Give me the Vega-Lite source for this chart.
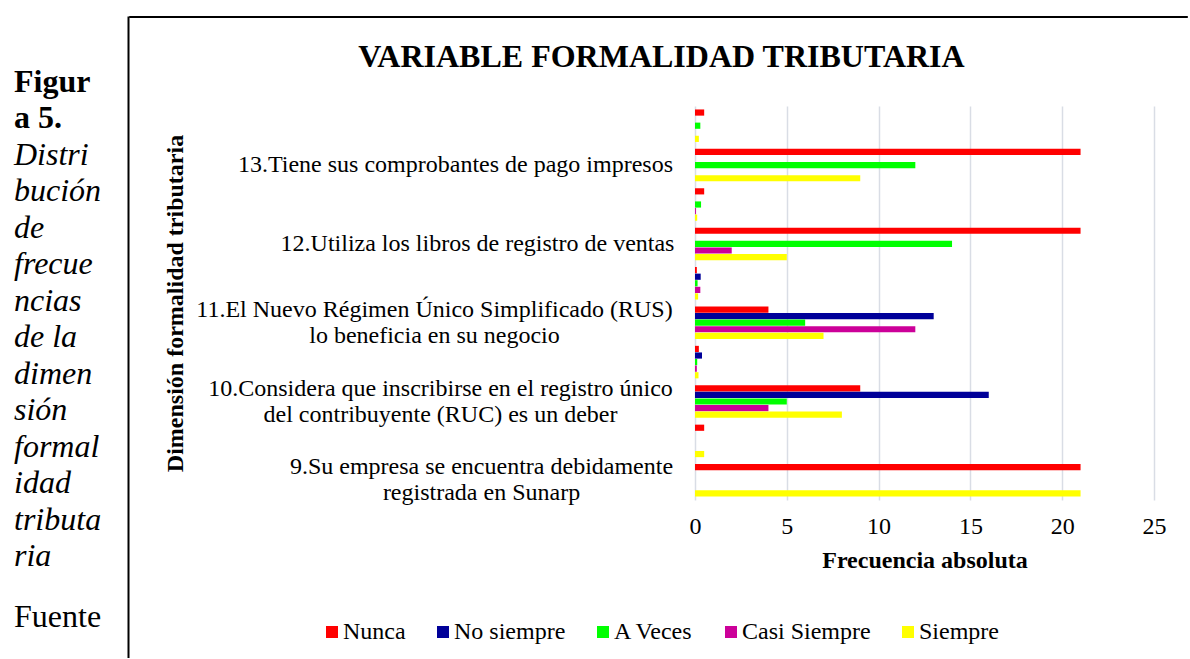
{
  "$schema": "https://vega.github.io/schema/vega-lite/v6.json",
  "background": "white",
  "padding": {"left": 0, "top": 15, "right": 0, "bottom": 0},
  "config": {
    "font": "Liberation Serif",
    "view": {"stroke": null},
    "concat": {"spacing": 0}
  },
  "hconcat": [
    {
      "width": 128,
      "height": 642,
      "view": {"stroke": null},
      "data": {"values": [
        {"linea": 1, "texto": "Figur", "parte": "etiqueta"},
        {"linea": 2, "texto": "a 5.", "parte": "etiqueta"},
        {"linea": 3, "texto": "Distri", "parte": "titulo"},
        {"linea": 4, "texto": "bución", "parte": "titulo"},
        {"linea": 5, "texto": "de", "parte": "titulo"},
        {"linea": 6, "texto": "frecue", "parte": "titulo"},
        {"linea": 7, "texto": "ncias", "parte": "titulo"},
        {"linea": 8, "texto": "de la", "parte": "titulo"},
        {"linea": 9, "texto": "dimen", "parte": "titulo"},
        {"linea": 10, "texto": "sión", "parte": "titulo"},
        {"linea": 11, "texto": "formal", "parte": "titulo"},
        {"linea": 12, "texto": "idad", "parte": "titulo"},
        {"linea": 13, "texto": "tributa", "parte": "titulo"},
        {"linea": 14, "texto": "ria", "parte": "titulo"},
        {"linea": 16, "texto": "Fuente", "parte": "fuente"}
      ]},
      "encoding": {
        "x": {"datum": 0, "type": "quantitative", "scale": {"domain": [0, 1]}, "axis": null},
        "y": {
          "field": "linea", "type": "quantitative",
          "scale": {"domain": [-1.08, 16.509], "reverse": true, "nice": false, "zero": false},
          "axis": {"orient": "right", "labels": false, "ticks": false, "grid": false, "title": null, "domain": true, "domainColor": "#000000", "domainWidth": 2}
        },
        "text": {"field": "texto"}
      },
      "layer": [
        {
          "transform": [{"filter": "datum.parte == 'etiqueta'"}],
          "mark": {"type": "text", "align": "left", "baseline": "alphabetic", "dx": 14, "font": "Liberation Serif", "fontSize": 32, "fontWeight": "bold", "color": "#000000"}
        },
        {
          "transform": [{"filter": "datum.parte == 'titulo'"}],
          "mark": {"type": "text", "align": "left", "baseline": "alphabetic", "dx": 14, "font": "Liberation Serif", "fontSize": 32, "fontStyle": "italic", "color": "#000000"}
        },
        {
          "transform": [{"filter": "datum.parte == 'fuente'"}],
          "mark": {"type": "text", "align": "left", "baseline": "alphabetic", "dx": 14, "dy": -12.5, "font": "Liberation Serif", "fontSize": 32, "color": "#000000"}
        }
      ]
    },
    {
      "spacing": 23,
      "vconcat": [
        {
          "width": 1058,
          "height": 1,
          "data": {"values": []},
          "mark": {"type": "point"},
          "view": {"stroke": "#000000", "strokeWidth": 1, "fill": "#000000"}
        },
        {
          "spacing": 33,
          "hconcat": [
            {
              "width": 1,
              "height": 1,
              "data": {"values": []},
              "mark": {"type": "point"},
              "view": {"stroke": null}
            },
            {
              "width": 459,
              "height": 394,
              "title": {
                "text": "VARIABLE FORMALIDAD TRIBUTARIA",
                "font": "Liberation Serif",
                "fontSize": 32,
                "fontWeight": "bold",
                "color": "#000000",
                "anchor": "middle",
                "frame": "bounds",
                "dx": -3,
                "baseline": "alphabetic",
                "offset": 7
              },
              "data": {"values": [
                {"item": "13 (proporción)", "respuesta": "Nunca", "frecuencia": 0.5},
                {"item": "13 (proporción)", "respuesta": "A Veces", "frecuencia": 0.29},
                {"item": "13 (proporción)", "respuesta": "Siempre", "frecuencia": 0.21},
                {"item": "13.Tiene sus comprobantes de pago impresos", "respuesta": "Nunca", "frecuencia": 21},
                {"item": "13.Tiene sus comprobantes de pago impresos", "respuesta": "A Veces", "frecuencia": 12},
                {"item": "13.Tiene sus comprobantes de pago impresos", "respuesta": "Siempre", "frecuencia": 9},
                {"item": "12 (proporción)", "respuesta": "Nunca", "frecuencia": 0.5},
                {"item": "12 (proporción)", "respuesta": "A Veces", "frecuencia": 0.33},
                {"item": "12 (proporción)", "respuesta": "Casi Siempre", "frecuencia": 0.05},
                {"item": "12 (proporción)", "respuesta": "Siempre", "frecuencia": 0.12},
                {"item": "12.Utiliza los libros de registro de ventas", "respuesta": "Nunca", "frecuencia": 21},
                {"item": "12.Utiliza los libros de registro de ventas", "respuesta": "A Veces", "frecuencia": 14},
                {"item": "12.Utiliza los libros de registro de ventas", "respuesta": "Casi Siempre", "frecuencia": 2},
                {"item": "12.Utiliza los libros de registro de ventas", "respuesta": "Siempre", "frecuencia": 5},
                {"item": "11 (proporción)", "respuesta": "Nunca", "frecuencia": 0.1},
                {"item": "11 (proporción)", "respuesta": "No siempre", "frecuencia": 0.31},
                {"item": "11 (proporción)", "respuesta": "A Veces", "frecuencia": 0.14},
                {"item": "11 (proporción)", "respuesta": "Casi Siempre", "frecuencia": 0.29},
                {"item": "11 (proporción)", "respuesta": "Siempre", "frecuencia": 0.17},
                {"item": "11.El Nuevo Régimen Único Simplificado (RUS)|lo beneficia en su negocio", "respuesta": "Nunca", "frecuencia": 4},
                {"item": "11.El Nuevo Régimen Único Simplificado (RUS)|lo beneficia en su negocio", "respuesta": "No siempre", "frecuencia": 13},
                {"item": "11.El Nuevo Régimen Único Simplificado (RUS)|lo beneficia en su negocio", "respuesta": "A Veces", "frecuencia": 6},
                {"item": "11.El Nuevo Régimen Único Simplificado (RUS)|lo beneficia en su negocio", "respuesta": "Casi Siempre", "frecuencia": 12},
                {"item": "11.El Nuevo Régimen Único Simplificado (RUS)|lo beneficia en su negocio", "respuesta": "Siempre", "frecuencia": 7},
                {"item": "10 (proporción)", "respuesta": "Nunca", "frecuencia": 0.21},
                {"item": "10 (proporción)", "respuesta": "No siempre", "frecuencia": 0.38},
                {"item": "10 (proporción)", "respuesta": "A Veces", "frecuencia": 0.12},
                {"item": "10 (proporción)", "respuesta": "Casi Siempre", "frecuencia": 0.1},
                {"item": "10 (proporción)", "respuesta": "Siempre", "frecuencia": 0.19},
                {"item": "10.Considera que inscribirse en el registro único|del contribuyente (RUC) es un deber", "respuesta": "Nunca", "frecuencia": 9},
                {"item": "10.Considera que inscribirse en el registro único|del contribuyente (RUC) es un deber", "respuesta": "No siempre", "frecuencia": 16},
                {"item": "10.Considera que inscribirse en el registro único|del contribuyente (RUC) es un deber", "respuesta": "A Veces", "frecuencia": 5},
                {"item": "10.Considera que inscribirse en el registro único|del contribuyente (RUC) es un deber", "respuesta": "Casi Siempre", "frecuencia": 4},
                {"item": "10.Considera que inscribirse en el registro único|del contribuyente (RUC) es un deber", "respuesta": "Siempre", "frecuencia": 8},
                {"item": "9 (proporción)", "respuesta": "Nunca", "frecuencia": 0.5},
                {"item": "9 (proporción)", "respuesta": "Siempre", "frecuencia": 0.5},
                {"item": "9.Su empresa se encuentra debidamente|registrada en Sunarp", "respuesta": "Nunca", "frecuencia": 21},
                {"item": "9.Su empresa se encuentra debidamente|registrada en Sunarp", "respuesta": "Siempre", "frecuencia": 21}
              ]},
              "mark": {"type": "bar"},
              "encoding": {
                "y": {
                  "field": "item", "type": "nominal",
                  "sort": [
                    "13 (proporción)",
                    "13.Tiene sus comprobantes de pago impresos",
                    "12 (proporción)",
                    "12.Utiliza los libros de registro de ventas",
                    "11 (proporción)",
                    "11.El Nuevo Régimen Único Simplificado (RUS)|lo beneficia en su negocio",
                    "10 (proporción)",
                    "10.Considera que inscribirse en el registro único|del contribuyente (RUC) es un deber",
                    "9 (proporción)",
                    "9.Su empresa se encuentra debidamente|registrada en Sunarp"
                  ],
                  "scale": {"paddingInner": 0.175, "paddingOuter": 0.0875},
                  "axis": {
                    "title": "Dimensión formalidad tributaria",
                    "titleFont": "Liberation Serif",
                    "titleFontSize": 24,
                    "titleFontWeight": "bold",
                    "titleColor": "#000000",
                    "titlePadding": 308,
                    "labelFont": "Liberation Serif",
                    "labelFontSize": 24,
                    "labelColor": "#000000",
                    "labelAlign": "center",
                    "labelPadding": {
                      "condition": [
                        {"test": "indexof(datum.value, '12.') == 0", "value": 218},
                        {"test": "indexof(datum.value, '11.') == 0", "value": 261},
                        {"test": "indexof(datum.value, '10.') == 0", "value": 255},
                        {"test": "indexof(datum.value, '9.') == 0", "value": 214}
                      ],
                      "value": 240
                    },
                    "labelOffset": {
                      "condition": {"test": "indexof(datum.value, '|') >= 0", "value": -13},
                      "value": 0
                    },
                    "labelLimit": 0,
                    "labelLineHeight": 26,
                    "labelOverlap": false,
                    "labelExpr": "indexof(datum.value, 'proporción') >= 0 ? '' : split(datum.value, '|')",
                    "ticks": false,
                    "domain": false,
                    "grid": false
                  }
                },
                "x": {
                  "field": "frecuencia", "type": "quantitative",
                  "scale": {"domain": [0, 25], "nice": false},
                  "axis": {
                    "title": "Frecuencia absoluta",
                    "titleFont": "Liberation Serif",
                    "titleFontSize": 24,
                    "titleFontWeight": "bold",
                    "titleColor": "#000000",
                    "titlePadding": 10,
                    "labelFont": "Liberation Serif",
                    "labelFontSize": 24,
                    "labelColor": "#000000",
                    "labelPadding": 14,
                    "labelFlush": false,
                    "values": [0, 5, 10, 15, 20, 25],
                    "ticks": false,
                    "domain": false,
                    "grid": true,
                    "gridColor": "#D9DDE5",
                    "gridWidth": 1.5
                  }
                },
                "yOffset": {
                  "field": "respuesta", "type": "nominal",
                  "scale": {"domain": ["Nunca", "No siempre", "A Veces", "Casi Siempre", "Siempre"], "paddingInner": 0.06, "paddingOuter": 0}
                },
                "color": {
                  "field": "respuesta", "type": "nominal",
                  "scale": {
                    "domain": ["Nunca", "No siempre", "A Veces", "Casi Siempre", "Siempre"],
                    "range": ["#FF0000", "#000099", "#00FF00", "#CC0099", "#FFFF00"]
                  },
                  "legend": {
                    "orient": "none",
                    "legendX": 320,
                    "legendY": 604,
                    "direction": "horizontal",
                    "title": null,
                    "symbolType": "square",
                    "symbolSize": 144,
                    "symbolStrokeWidth": 0,
                    "symbolOpacity": 1,
                    "labelFont": "Liberation Serif",
                    "labelFontSize": 24,
                    "labelColor": "#000000",
                    "labelOffset": -1,
                    "columnPadding": 25,
                    "labelLimit": 0
                  }
                }
              }
            }
          ]
        }
      ]
    }
  ]
}
